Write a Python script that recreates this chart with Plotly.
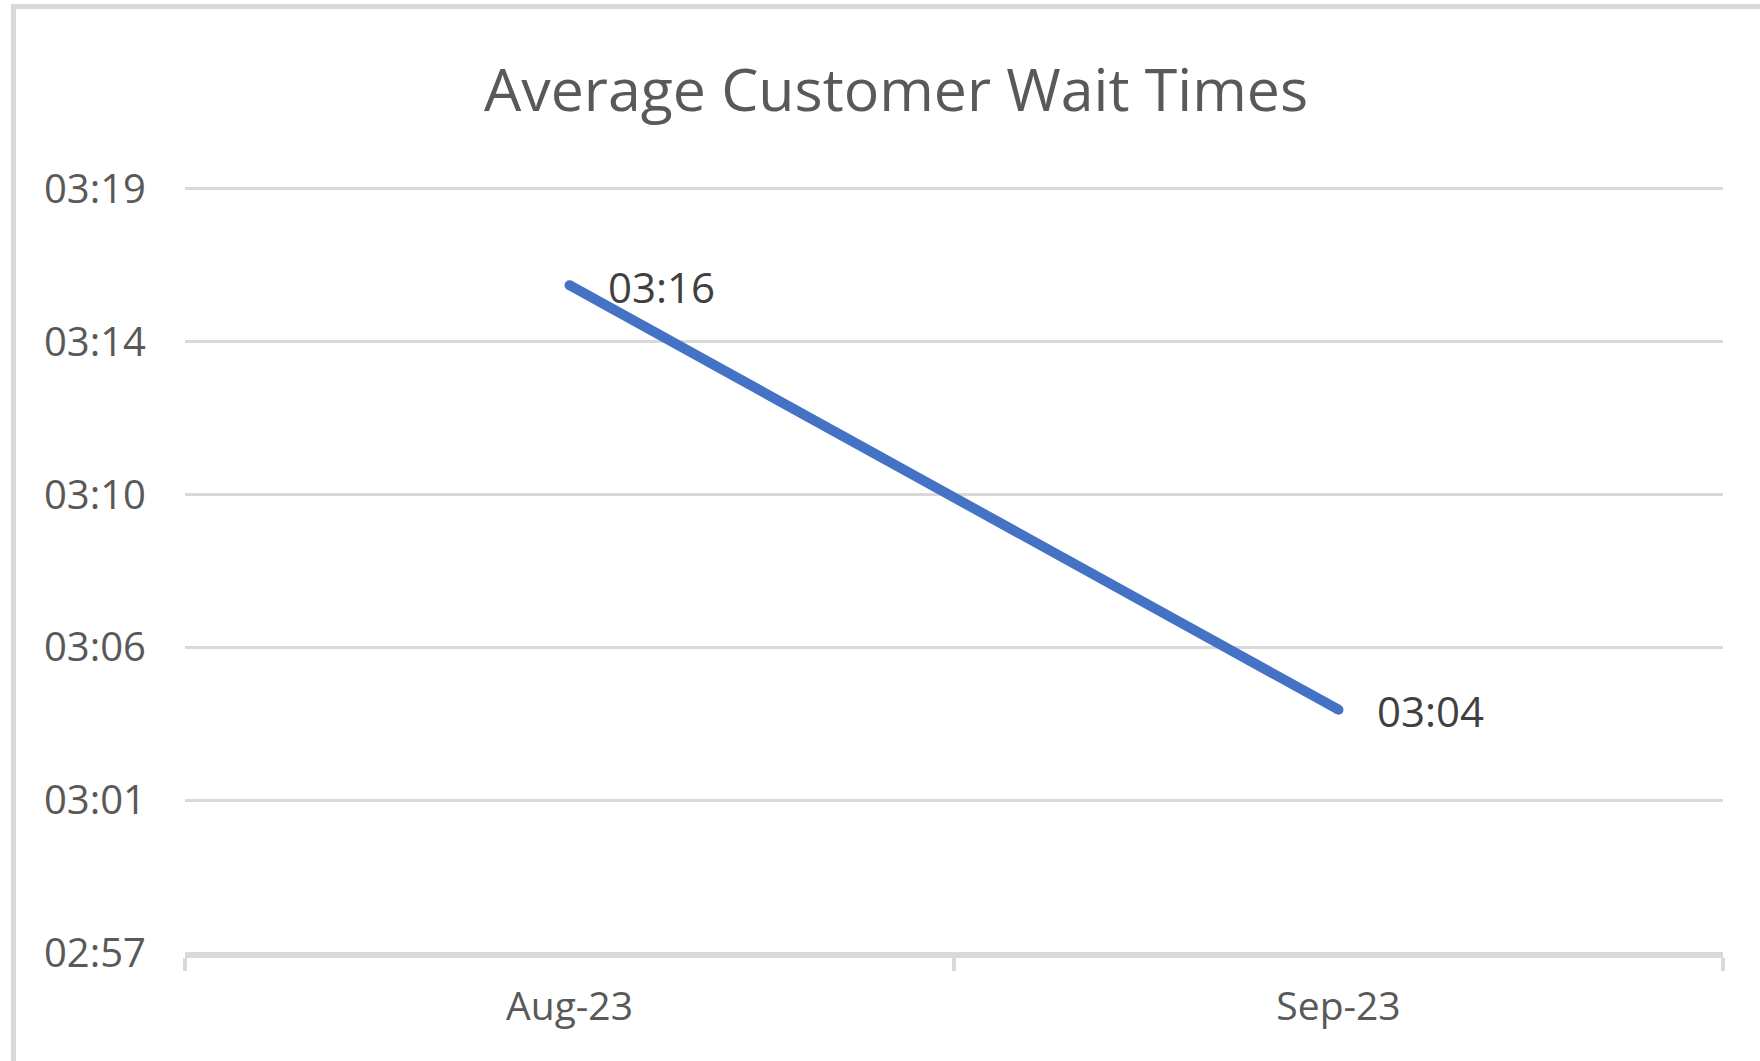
import plotly.graph_objects as go

# Data (wait times in seconds)
categories = ["Aug-23", "Sep-23"]
wait_seconds = [196, 184]
wait_labels = ["03:16", "03:04"]

# Y axis ticks (Excel time axis: steps of 0.00005 day = 4.32 s)
ytick_vals = [177.12, 181.44, 185.76, 190.08, 194.4, 198.72]
ytick_text = ["02:57", "03:01", "03:06", "03:10", "03:14", "03:19"]

W, H = 1760, 1061
L, R, T, B = 185, 37, 187, 106

FONT = "Open Sans"
GRID = "#d9d9d9"
TXT = "#595959"

fig = go.Figure()
fig.add_trace(go.Scatter(
    x=categories, y=wait_seconds, mode="lines+markers",
    line=dict(color="#4472C4", width=10),
    marker=dict(color="#4472C4", size=10, line=dict(width=0)),
    hoverinfo="skip", showlegend=False,
))

for cat, yv, lab in zip(categories, wait_seconds, wait_labels):
    fig.add_annotation(x=cat, y=yv, text=lab, showarrow=False,
                       xanchor="left", yanchor="middle", xshift=36, yshift=-1,
                       font=dict(family=FONT, size=42, color="#404040"))

# outer chart border (top and left visible)
pw, ph = W - L - R, H - T - B
fig.add_shape(type="rect", xref="paper", yref="paper",
              x0=(13.5 - L) / pw, x1=(W + 20 - L) / pw,
              y0=-(B + 20) / ph, y1=1 + (T - 6.5) / ph,
              line=dict(color=GRID, width=5), layer="below")

pad = 0.055
fig.update_layout(
    width=W, height=H,
    margin=dict(l=L, r=R, t=T, b=B),
    paper_bgcolor="white", plot_bgcolor="white",
    title=dict(text="Average Customer Wait Times", x=896 / W, xanchor="center",
               y=1 - 90 / H, yanchor="middle", yref="container",
               font=dict(family=FONT, size=59, color=TXT)),
    xaxis=dict(type="category", range=[-0.5, len(categories) - 0.5],
               tickson="boundaries",
               ticks="outside", ticklen=13, tickwidth=4, tickcolor=GRID,
               showgrid=False, zeroline=False,
               showline=True, linecolor=GRID, linewidth=3,
               ticklabelstandoff=15,
               tickfont=dict(family=FONT, size=39, color=TXT)),
    yaxis=dict(range=[ytick_vals[0] - pad, ytick_vals[-1] + pad], tickmode="array",
               tickvals=ytick_vals, ticktext=ytick_text,
               showgrid=True, gridcolor=GRID, gridwidth=3,
               zeroline=False, showline=False, ticks="",
               ticklabelstandoff=38,
               tickfont=dict(family=FONT, size=40, color=TXT)),
)

fig.write_html("out.html", config={"displayModeBar": False},
               post_script="document.body.style.margin='0';")
